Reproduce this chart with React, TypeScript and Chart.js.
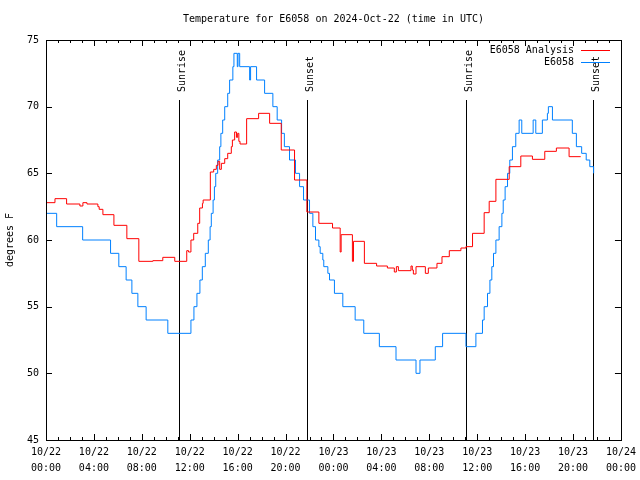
import React, { useEffect, useRef } from "react";
import { Chart, registerables } from "chart.js";

Chart.register(...registerables);

const TITLE = "Temperature for E6058 on 2024-Oct-22 (time in UTC)";
const Y_LABEL = "degrees F";
const FONT = "'DejaVu Sans Mono', 'Liberation Mono', monospace";

const X_TICK_HOURS = [0, 4, 8, 12, 16, 20, 24, 28, 32, 36, 40, 44, 48];
const X_TICK_LABELS = [
  ["10/22", "00:00"], ["10/22", "04:00"], ["10/22", "08:00"], ["10/22", "12:00"],
  ["10/22", "16:00"], ["10/22", "20:00"], ["10/23", "00:00"], ["10/23", "04:00"],
  ["10/23", "08:00"], ["10/23", "12:00"], ["10/23", "16:00"], ["10/23", "20:00"],
  ["10/24", "00:00"],
];
const Y_TICKS = [45, 50, 55, 60, 65, 70, 75];

const EVENT_HOURS = [11.1, 21.78, 35.1, 45.69];
const EVENT_LABELS = ["Sunrise", "Sunset", "Sunrise", "Sunset"];

const SERIES_NAMES = ["E6058 Analysis", "E6058"];
const SERIES_COLORS = ["#ff0000", "#0080ff"];

const ANALYSIS_HOURS = [
  0, 0.75, 1.72, 2.83, 3.08, 3.42, 4.33, 4.44, 4.75, 5.67, 6.75, 7.75, 8.92, 9.75, 10.75,
  11.75, 11.9, 12.1, 12.33, 12.67, 12.83, 13.06, 13.12, 13.72, 14.0, 14.22, 14.36, 14.5,
  14.64, 14.92, 15.17, 15.47, 15.56, 15.75, 15.9, 16.0, 16.1, 16.2, 16.75, 17.75, 18.67,
  19.64, 20.75, 21.78, 22.78, 23.92, 24.56, 24.64, 25.58, 25.67, 26.58, 27.6, 28.5, 29.08,
  29.25, 29.42, 30.47, 30.58, 30.67, 30.89, 31.67, 31.92, 32.64, 33.06, 33.67, 34.64,
  35.06, 35.61, 36.58, 37.0, 37.56, 38.67, 39.64, 40.61, 41.64, 42.61, 43.67, 44.64,
];
const ANALYSIS_TEMPS = [
  62.8, 63.1, 62.7, 62.55, 62.8, 62.7, 62.5, 62.3, 61.9, 61.1, 60.1, 58.4, 58.45, 58.7, 58.4,
  59.2, 59.1, 60.0, 60.5, 61.25, 62.4, 62.75, 63.0, 65.1, 65.3, 65.6, 65.9, 65.3,
  65.75, 66.1, 66.5, 67.0, 67.5, 68.1, 67.7, 68.0, 67.4, 67.2, 69.1, 69.5, 68.75,
  66.75, 64.5, 62.1, 61.25, 60.9, 59.1, 60.4, 58.4, 59.9, 58.25, 58.05, 57.9, 57.6,
  58.0, 57.7, 58.05, 57.75, 57.45, 58.0, 57.5, 57.9, 58.25, 58.75, 59.2, 59.4,
  59.5, 60.5, 62.05, 62.9, 64.55, 65.5, 66.3, 66.05, 66.65, 66.9, 66.25, 66.25,
];

const SENSOR_HOURS = [
  0, 0.89, 3.06, 5.39, 6.08, 6.69, 7.17, 7.67, 8.36, 10.17, 12.1, 12.35, 12.6, 12.85, 13.05,
  13.3, 13.55, 13.7, 13.8, 13.95, 14.06, 14.17, 14.33, 14.5, 14.6, 14.75, 14.92, 15.17,
  15.33, 15.6, 15.69, 15.97, 16.03, 16.17, 17.0, 17.08, 17.58, 18.25, 18.94, 19.3, 19.67,
  19.9, 20.33, 20.83, 21.17, 21.5, 22.0, 22.28, 22.5, 22.78, 22.89, 23.11, 23.19, 23.53,
  23.67, 24.08, 24.78, 25.81, 26.53, 27.83, 29.22, 30.89, 31.22, 32.5, 33.11, 35.06,
  35.89, 36.44, 36.58, 36.86, 37.06, 37.22, 37.36, 37.56, 37.83, 38.06, 38.17, 38.33,
  38.53, 38.72, 38.94, 39.22, 39.5, 39.72, 40.67, 40.89, 41.44, 41.86, 41.94, 42.28,
  43.94, 44.28, 44.72, 45.1, 45.4, 45.72,
];
const SENSOR_TEMPS = [
  62, 61, 60, 59, 58, 57, 56, 55, 54, 53, 54, 55, 56, 57, 58,
  59, 60, 61, 62, 63, 64, 65, 66, 67, 68, 69, 70, 71,
  72, 73, 74, 73, 74, 73, 72, 73, 72, 71, 70, 69, 68,
  67, 66, 65, 64, 63, 62, 61, 60, 59.5, 59, 58.5, 58, 57.5,
  57, 56, 55, 54, 53, 52, 51, 50, 51, 52, 53, 52,
  53, 54, 55, 56, 57, 58, 59, 60, 61, 62, 63, 64,
  65, 66, 67, 68, 69, 68, 69, 68, 69, 69.5, 70, 69,
  68, 67, 66.5, 66, 65.5, 65,
];

const overlayPlugin = {
  id: "gnuplotOverlay",
  beforeDatasetsDraw(chart: any) {
    const { ctx, chartArea, scales } = chart;
    const xs = scales.x;
    ctx.save();
    ctx.strokeStyle = "#000";
    ctx.lineWidth = 1;
    ctx.fillStyle = "#000";
    ctx.font = `10px ${FONT}`;
    EVENT_HOURS.forEach((h, i) => {
      const px = Math.round(xs.getPixelForValue(h)) + 0.5;
      ctx.beginPath();
      ctx.moveTo(px, chartArea.top + 60);
      ctx.lineTo(px, chartArea.bottom);
      ctx.stroke();
      ctx.save();
      ctx.translate(px + 5.5, chartArea.top + 52);
      ctx.rotate(-Math.PI / 2);
      ctx.textAlign = "left";
      ctx.textBaseline = "alphabetic";
      ctx.fillText(EVENT_LABELS[i], 0, 0);
      ctx.restore();
    });
    ctx.restore();
  },
  afterDraw(chart: any) {
    const { ctx, chartArea, scales } = chart;
    const xs = scales.x;
    const ys = scales.y;
    const { left, right, top, bottom } = chartArea;
    ctx.save();
    ctx.strokeStyle = "#000";
    ctx.lineWidth = 1;
    ctx.strokeRect(Math.round(left) + 0.5, Math.round(top) + 0.5, Math.round(right - left), Math.round(bottom - top));
    ctx.beginPath();
    for (let h = 0; h <= 48; h++) {
      const px = Math.round(xs.getPixelForValue(h)) + 0.5;
      const len = h % 4 === 0 ? 6 : 3;
      ctx.moveTo(px, bottom);
      ctx.lineTo(px, bottom - len);
      ctx.moveTo(px, top);
      ctx.lineTo(px, top + len);
    }
    Y_TICKS.forEach((v) => {
      const py = Math.round(ys.getPixelForValue(v)) + 0.5;
      ctx.moveTo(left, py);
      ctx.lineTo(left + 6, py);
      ctx.moveTo(right, py);
      ctx.lineTo(right - 6, py);
    });
    ctx.stroke();

    ctx.fillStyle = "#000";
    ctx.font = `10px ${FONT}`;
    ctx.textAlign = "center";
    ctx.textBaseline = "middle";
    ctx.fillText(TITLE, (left + right) / 2, 19.5);

    ctx.save();
    ctx.translate(10.5, (top + bottom) / 2);
    ctx.rotate(-Math.PI / 2);
    ctx.fillText(Y_LABEL, 0, 0);
    ctx.restore();

    const rows = [50.5, 62.5];
    SERIES_NAMES.forEach((name, i) => {
      ctx.textAlign = "right";
      ctx.fillStyle = "#000";
      ctx.fillText(name, 574, rows[i]);
      ctx.strokeStyle = SERIES_COLORS[i];
      ctx.beginPath();
      ctx.moveTo(581, rows[i]);
      ctx.lineTo(610, rows[i]);
      ctx.stroke();
    });
    ctx.restore();
  },
};

export default function App() {
  const canvasRef = useRef<HTMLCanvasElement | null>(null);

  useEffect(() => {
    if (!canvasRef.current) return;
    const chart = new Chart(canvasRef.current, {
      type: "line",
      data: {
        datasets: [
          {
            label: SERIES_NAMES[0],
            data: ANALYSIS_HOURS.map((h, i) => ({ x: h, y: ANALYSIS_TEMPS[i] })),
            borderColor: SERIES_COLORS[0],
            borderWidth: 1,
            pointRadius: 0,
            stepped: true,
            fill: false,
          },
          {
            label: SERIES_NAMES[1],
            data: SENSOR_HOURS.map((h, i) => ({ x: h, y: SENSOR_TEMPS[i] })),
            borderColor: SERIES_COLORS[1],
            borderWidth: 1,
            pointRadius: 0,
            stepped: true,
            fill: false,
          },
        ],
      },
      options: {
        animation: false,
        responsive: false,
        devicePixelRatio: 1,
        layout: { padding: { top: 40, right: 18, left: 0, bottom: 0 } },
        plugins: {
          legend: { display: false },
          title: { display: false },
          tooltip: { enabled: false },
        },
        events: [],
        scales: {
          x: {
            type: "linear",
            min: 0,
            max: 48,
            afterBuildTicks: (scale: any) => {
              scale.ticks = X_TICK_HOURS.map((v) => ({ value: v }));
            },
            afterFit: (scale: any) => {
              scale.height = 40;
            },
            ticks: {
              autoSkip: false,
              maxRotation: 0,
              minRotation: 0,
              padding: 4,
              color: "#000",
              font: { family: FONT, size: 10, lineHeight: 1.6 },
              callback: (_v: any, i: number) => X_TICK_LABELS[i],
            },
            grid: { display: false, drawTicks: false },
            border: { display: false },
          },
          y: {
            type: "linear",
            min: 45,
            max: 75,
            afterBuildTicks: (scale: any) => {
              scale.ticks = Y_TICKS.map((v) => ({ value: v }));
            },
            afterFit: (scale: any) => {
              scale.width = 46;
            },
            ticks: {
              padding: 7,
              color: "#000",
              font: { family: FONT, size: 10 },
              callback: (v: any) => String(v),
            },
            grid: { display: false, drawTicks: false },
            border: { display: false },
          },
        },
      },
      plugins: [overlayPlugin],
    });
    return () => chart.destroy();
  }, []);

  return (
    <div style={{ position: "fixed", left: 0, top: 0, width: 640, height: 480, background: "#fff" }}>
      <canvas ref={canvasRef} width={640} height={480} style={{ width: 640, height: 480, display: "block" }} />
    </div>
  );
}
